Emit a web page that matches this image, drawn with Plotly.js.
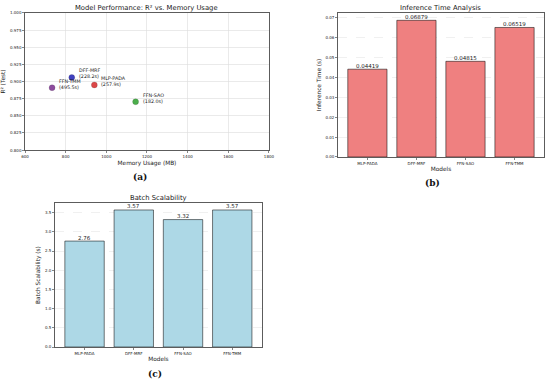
<!DOCTYPE html>
<html>
<head>
<meta charset="utf-8">
<script src="https://cdn.plot.ly/plotly-3.0.1.min.js"></script>
<style>html,body{margin:0;padding:0;background:#fff;}#chart{width:550px;height:381px;}</style>
</head>
<body>
<div id="chart"></div>
<script>
// Panel (a): scatter R² vs memory
const scatterModels = ["FFN-TMM", "DFF-MRF", "MLP-PADA", "FFN-SAO"];
const memoryMB = [733, 830, 941, 1144];
const r2Test = [0.891, 0.906, 0.895, 0.8705];
const trainTimes = ["495.5s", "228.2s", "257.9s", "182.0s"];
const scatterColors = ["#7B2D8E", "#1F1FB4", "#D62728", "#2CA02C"];

// Panels (b) and (c): bars
const barModels = ["MLP-PADA", "DFF-MRF", "FFN-SAO", "FFN-TMM"];
const inferenceTime = [0.04419, 0.06879, 0.04815, 0.06519];
const inferenceLabels = ["0.04419", "0.06879", "0.04815", "0.06519"];
const batchScal = [2.76, 3.57, 3.32, 3.57];
const batchLabels = ["2.76", "3.57", "3.32", "3.57"];

const FONT = "DejaVu Sans, sans-serif";
const TXT = "#1a1a1a";
const tickF = {family: FONT, size: 4, color: TXT};
const axTitleF = {family: FONT, size: 5.8, color: TXT};

const traces = [
  {
    type: "scatter", mode: "markers", x: memoryMB, y: r2Test,
    xaxis: "x", yaxis: "y",
    marker: {color: scatterColors, size: 6, opacity: 0.85, line: {color: "rgba(0,0,0,0.3)", width: 0.5}},
    hoverinfo: "skip", showlegend: false
  },
  {
    type: "bar", x: barModels, y: inferenceTime, xaxis: "x2", yaxis: "y2",
    marker: {color: "#EF8080", line: {color: "rgba(0,0,0,0.65)", width: 0.8}},
    showlegend: false
  },
  {
    type: "bar", x: barModels, y: batchScal, xaxis: "x3", yaxis: "y3",
    marker: {color: "#ADD8E6", line: {color: "rgba(0,0,0,0.65)", width: 0.8}},
    showlegend: false
  }
];

const annotations = scatterModels.map((m, i) => ({
  x: memoryMB[i], y: r2Test[i], xref: "x", yref: "y",
  text: m + "<br>(" + trainTimes[i] + ")", showarrow: false,
  xanchor: "left", yanchor: "bottom", align: "left", xshift: 5, yshift: -4,
  font: {family: FONT, size: 4.8, color: TXT}
}));

barModels.forEach((m, i) => {
  annotations.push({x: m, y: inferenceTime[i], xref: "x2", yref: "y2", text: inferenceLabels[i],
    showarrow: false, xanchor: "center", yanchor: "bottom", yshift: -1.5,
    font: {family: FONT, size: 5.5, color: TXT}});
  annotations.push({x: m, y: batchScal[i], xref: "x3", yref: "y3", text: batchLabels[i],
    showarrow: false, xanchor: "center", yanchor: "bottom", yshift: -1.5,
    font: {family: FONT, size: 5.5, color: TXT}});
});

const titleAnn = (txt, x, y) => ({text: txt, x: x, y: y, xref: "paper", yref: "paper",
  showarrow: false, xanchor: "center", yanchor: "bottom", font: {family: FONT, size: 6.8, color: TXT}});
annotations.push(titleAnn("Model Performance: R² vs. Memory Usage", 0.267, 0.964));
annotations.push(titleAnn("Inference Time Analysis", 0.8015, 0.964));
annotations.push(titleAnn("Batch Scalability", 0.288, 0.465));

const capAnn = (txt, x, y) => ({text: "<b>" + txt + "</b>", x: x, y: y, xref: "paper", yref: "paper",
  showarrow: false, xanchor: "center", yanchor: "middle", font: {family: "DejaVu Serif, serif", size: 9, color: "#111"}});
annotations.push(capAnn("(a)", 0.255, 1 - 177/381));
annotations.push(capAnn("(b)", 0.786, 1 - 183/381));
annotations.push(capAnn("(c)", 0.282, 1 - 374/381));

const baseAx = {
  showline: true, mirror: true, linecolor: "#333", linewidth: 0.8,
  ticks: "outside", ticklen: 2, tickwidth: 0.6, tickcolor: "#333",
  tickfont: tickF, zeroline: false, fixedrange: true
};

const layout = {
  width: 550, height: 381,
  margin: {l: 0, r: 0, t: 0, b: 0},
  paper_bgcolor: "#fff", plot_bgcolor: "#fff",
  font: {family: FONT, color: TXT},
  bargap: 0.2,
  xaxis: Object.assign({}, baseAx, {
    domain: [0.0455, 0.489], anchor: "y", range: [600, 1800], dtick: 200,
    showgrid: true, gridcolor: "#dcdcdc", gridwidth: 0.6,
    title: {text: "Memory Usage (MB)", font: axTitleF, standoff: 3}
  }),
  yaxis: Object.assign({}, baseAx, {
    domain: [0.606, 0.966], anchor: "x", range: [0.8, 1.0], dtick: 0.025, tickformat: ".3f",
    showgrid: true, gridcolor: "#dcdcdc", gridwidth: 0.6,
    title: {text: "R² (Test)", font: axTitleF, standoff: 3}
  }),
  xaxis2: Object.assign({}, baseAx, {
    domain: [0.6145, 0.989], anchor: "y2", range: [-0.6, 3.6], showgrid: false,
    title: {text: "Models", font: axTitleF, standoff: 2}
  }),
  yaxis2: Object.assign({}, baseAx, {
    domain: [0.588, 0.966], anchor: "x2", range: [0, 0.0725], dtick: 0.01, tickformat: ".2f",
    showgrid: true, gridcolor: "#e6e6e6", gridwidth: 0.6, griddash: "dash",
    title: {text: "Inference Time (s)", font: axTitleF, standoff: 3}
  }),
  xaxis3: Object.assign({}, baseAx, {
    domain: [0.1, 0.476], anchor: "y3", range: [-0.6, 3.6], showgrid: false,
    title: {text: "Models", font: axTitleF, standoff: 2}
  }),
  yaxis3: Object.assign({}, baseAx, {
    domain: [0.0892, 0.467], anchor: "x3", range: [0, 3.75], dtick: 0.5, tickformat: ".1f",
    showgrid: true, gridcolor: "#e6e6e6", gridwidth: 0.6, griddash: "dash",
    title: {text: "Batch Scalability (s)", font: axTitleF, standoff: 3}
  }),
  annotations: annotations
};

Plotly.newPlot("chart", traces, layout, {staticPlot: true, displayModeBar: false});
</script>
</body>
</html>
